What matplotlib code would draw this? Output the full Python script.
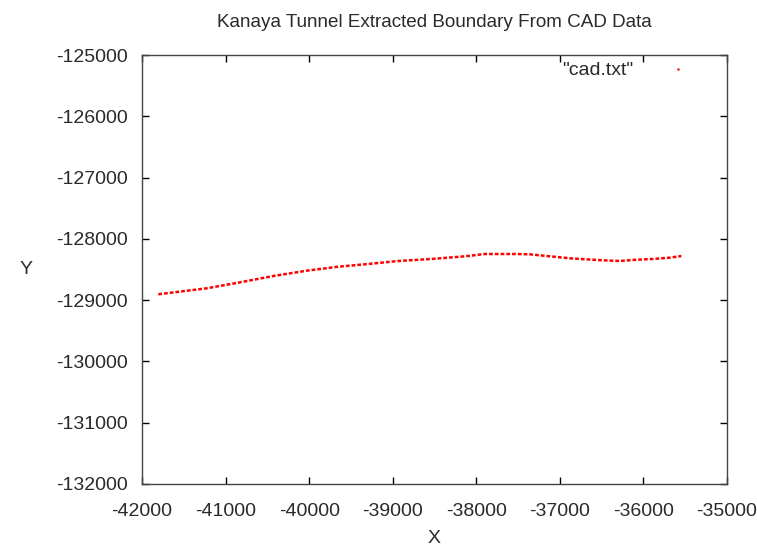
import matplotlib
matplotlib.use("Agg")
import matplotlib.pyplot as plt
from matplotlib.lines import Line2D

# boundary points read from cad.txt
xs = [-41805, -41226, -40827, -40428, -40029, -39651, -39333, -38934, -38536,
      -38137, -37898, -37539, -37360, -37280, -37081, -36881, -36682, -36483,
      -36283, -36084, -35885, -35686, -35546]
ys = [-128904, -128807, -128709, -128606, -128519, -128454, -128415, -128361,
      -128328, -128285, -128247, -128247, -128252, -128263, -128290, -128317,
      -128334, -128350, -128361, -128340, -128328, -128307, -128280]

xticks = [-42000, -41000, -40000, -39000, -38000, -37000, -36000, -35000]
yticks = [-125000, -126000, -127000, -128000, -129000, -130000, -131000, -132000]

plt.rcParams['font.family'] = ['Liberation Sans', 'DejaVu Sans']
txt = '#2a2a2a'

fig = plt.figure(figsize=(7.57, 5.48), dpi=100)
ax = fig.add_axes([0.1876, 0.1168, 0.7728, 0.7828])

ax.plot(xs, ys, color='red', linestyle=(0, (1.5, 0.8)), linewidth=1.8)

ax.set_xlim(-42000, -35000)
ax.set_ylim(-132000, -125000)
ax.set_xticks(xticks)
ax.set_yticks(yticks)
ax.set_xticklabels([str(v) for v in xticks])
ax.set_yticklabels([str(v) for v in yticks])
ax.tick_params(direction='in', top=True, right=True, length=5, width=1,
               labelsize=14, labelcolor=txt)
ax.tick_params(axis='x', pad=14)
ax.tick_params(axis='y', pad=10)
for s in ax.spines.values():
    s.set_color('#444444')
    s.set_linewidth(1)

ax.set_title('Kanaya Tunnel Extracted Boundary From CAD Data', fontsize=13.6,
             color=txt, pad=20)
ax.set_xlabel('X', fontsize=14, color=txt, labelpad=7)
ax.set_ylabel('Y', fontsize=14, color=txt, rotation=0, labelpad=22, va='center')

handle = Line2D([], [], color='red', marker='.', markersize=1.5, linestyle='none')
ax.legend([handle], ['"cad.txt"'], loc='upper right', frameon=False,
          markerfirst=False, fontsize=14, labelcolor=txt,
          bbox_to_anchor=(0.98, 1.025), handletextpad=1.3)

fig.savefig('out.png', dpi=100)
